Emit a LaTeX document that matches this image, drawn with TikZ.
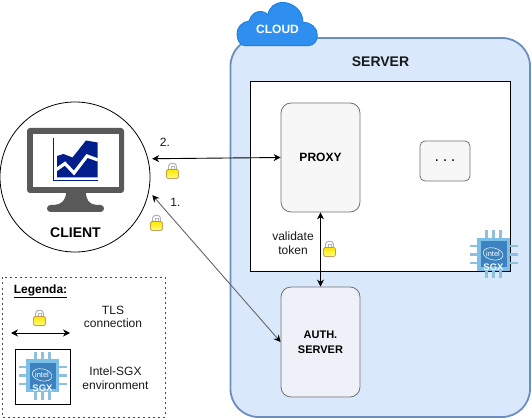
\documentclass[tikz,border=0pt]{standalone}
\usepackage{fontspec}
\setmainfont{Liberation Sans}
\usetikzlibrary{arrows.meta,calc}
\definecolor{srvfill}{HTML}{DAE8FC}
\definecolor{srvline}{HTML}{6C8EBF}
\definecolor{cloudfill}{HTML}{2F8FEF}
\definecolor{cloudline}{HTML}{1C7FE0}
\definecolor{chipbody}{HTML}{7CC0E8}
\definecolor{chipcore}{HTML}{3C82C0}
\definecolor{chippin}{HTML}{8FBFDA}
\definecolor{monitor}{HTML}{595959}
\definecolor{chartblue}{HTML}{001F8C}
\definecolor{authfill}{HTML}{EEF1F8}
\definecolor{proxyfill}{HTML}{F7F7F7}
\newcommand{\fs}[1]{\fontsize{#1}{#1}\selectfont}
\tikzset{
  boxgray/.style={draw=black!55,line width=.8pt,rounded corners=10pt,inner sep=0pt,align=center},
  lbl/.style={inner sep=0pt,align=center,text=black!90},
  biarrow/.style={{Stealth[length=7pt,width=7pt]}-{Stealth[length=7pt,width=7pt]},line width=.9pt},
  pinline/.style={chippin,line width=2.8pt},
  pics/lockicon/.style={code={
    \draw[black!30,fill=white,line width=1pt,rounded corners=2.5pt] (-3.8,0) -- (-3.8,-6.5) -- (3.8,-6.5) -- (3.8,0);
    \draw[black!30,line width=.7pt] (-1.5,0) -- (-1.5,-3.5) -- (1.5,-3.5) -- (1.5,0);
    \shade[top color=yellow!80!orange,bottom color=yellow!50!white,draw=orange!60!black!80,line width=.5pt,rounded corners=1.2pt] (-5.8,-.5) rectangle (5.8,8.5);
  }},
  pics/chipicon/.style={code={
    \foreach \d in {-7,0,7}{\draw[pinline] (\d,-24) -- (\d,24);}
    \foreach \d in {-8.5,0,8.5}{\draw[pinline] (-24,\d) -- (24,\d);}
    \fill[chipbody] (-16.5,-16.5) rectangle (16.5,16.5);
    \fill[chipcore] (-13,-13) rectangle (13,13);
    \draw[white,line width=.5pt,rotate=-12] (-.5,-.5) ellipse (10 and 6);
    \node[inner sep=0pt,text=white] at (-.5,-.5) {\fs{7.5}intel};
    \node[inner sep=0pt,text=white!90!chipbody] at (0,13) {\fs{9.5}\bfseries SGX};
  }}
}
\begin{document}
\begin{tikzpicture}[x=1pt,y=-1pt]
\useasboundingbox[fill=white] (0,0) rectangle (532,419);
% server
\draw[fill=srvfill,draw=srvline,line width=1.8pt,rounded corners=28pt] (230.5,38) rectangle (530,417);
\node[lbl] (servertext) at (380.5,62) {\fs{14}\bfseries SERVER};
% cloud
\draw[fill=cloudfill,draw=cloudline,line width=.9pt] (245,45.7) -- (308,45.7) .. controls (314,45.7) and (317.3,41) .. (317.3,35) .. controls (317.3,28) and (311,22) .. (303,22.5) .. controls (303,10) and (292,2.5) .. (283,2.5) .. controls (275,2.5) and (269,7) .. (268,15) .. controls (264,10) and (253,9) .. (249,21) .. controls (242,22) and (237,27) .. (237,34) .. controls (237,40) and (240,45.7) .. (245,45.7) -- cycle;
\node[lbl,text=white] (cloudtext) at (277.5,29.5) {\fs{12}\bfseries CLOUD};
% inner
\draw[fill=white,draw=black,line width=1pt] (250.5,81.5) rectangle (510.5,272);
\node[boxgray,fill=proxyfill,minimum width=79pt,minimum height=109pt] (proxy) at (320.5,157.5) {\fs{12}\bfseries PROXY};
\node[boxgray,fill=proxyfill,minimum width=50pt,minimum height=40pt,rounded corners=5pt] (dots) at (445,161) {\fs{16}.\hspace{3.6pt}.\hspace{3.6pt}.};
\node[boxgray,fill=authfill,minimum width=79pt,minimum height=110pt] (auth) at (320.5,342) {\fs{11}\bfseries AUTH.\\[3pt]\fs{11}\bfseries SERVER};
\pic at (493.5,254.5) {chipicon};
% client
\node[circle,draw=black,line width=.8pt,fill=white,minimum size=150pt,inner sep=0pt] (client) at (75,177) {};
\fill[monitor,rounded corners=3pt] (27,128) rectangle (124,193);
\fill[white] (32.5,134) rectangle (118.5,187);
\fill[monitor] (66,192) .. controls (66,200) and (62,204) .. (55,205) -- (96,205) .. controls (89,204) and (86,200) .. (86,192) -- cycle;
\fill[monitor,rounded corners=3.4pt] (47,205) rectangle (104,212);
\fill[chartblue] (57,156) -- (63.5,154) -- (72.5,157.5) -- (86,140.5) -- (97.5,142.5) -- (97.5,177.5) -- (57,177.5) -- cycle;
\draw[white,line width=3.2pt] (56.5,169.5) -- (65,163.5) -- (74,173) -- (87,156) -- (98,160);
\draw[chartblue,line width=1pt] (53.7,138) -- (53.7,181) -- (98,181);
\node[lbl,text=black] (clienttext) at (75.5,233) {\fs{14}\bfseries CLIENT};
% connectors
\draw[biarrow,shorten <=4pt] (client.14) -- (proxy.west);
\draw[{Stealth[length=7pt,width=7pt,black]}-{Stealth[length=7pt,width=7pt,black]},draw=black!60,line width=.9pt,shorten <=5pt] (client.-11) -- (auth.west);
\draw[biarrow] (proxy.south) -- (auth.north);
\node[lbl] (two) at (165,142.5) {\fs{12}2.};
\node[lbl] (one) at (175.5,202.5) {\fs{12}1.};
\node[lbl] (validate) at (293,243) {\fs{12}validate\\[1.5pt]\fs{12}token};
\pic at (172.5,170) {lockicon};
\pic at (156.5,222) {lockicon};
\pic at (329.5,248) {lockicon};
% legend
\draw[black!70,line width=.8pt,dash pattern=on 2pt off 3pt] (2.5,277.5) rectangle (165,417);
\node[lbl,text=black] (legendtitle) at (40.5,291) {\fs{12}\bfseries\underline{Legenda:}};
\pic at (39.5,317) {lockicon};
\coordinate (la) at (11,333);
\coordinate (lb) at (70,333);
\draw[biarrow] (la) -- (lb);
\node[lbl] (tls) at (113,317) {\fs{12}TLS\\[1.5pt]\fs{12}connection};
\node[draw=black,line width=1pt,minimum width=55pt,minimum height=55pt,inner sep=0pt] (sgxbox) at (43,376.8) {};
\pic at (42.5,375.5) {chipicon};
\node[lbl] (sgxtext) at (115.5,378) {\fs{12}Intel-SGX\\[1.5pt]\fs{12}environment};
\end{tikzpicture}
\end{document}
